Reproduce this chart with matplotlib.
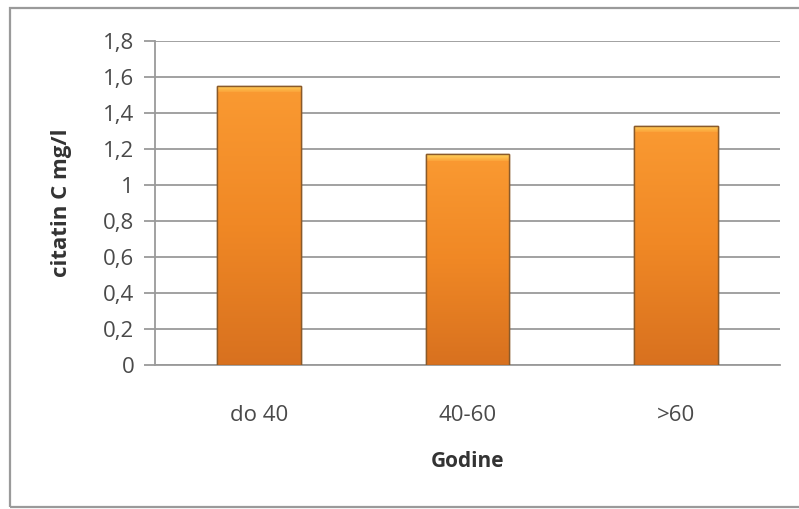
import numpy as np
import matplotlib.pyplot as plt
from matplotlib.patches import Rectangle
from matplotlib.colors import LinearSegmentedColormap
from matplotlib.ticker import FuncFormatter

# data
categories = ["do 40", "40-60", ">60"]
values = [1.55, 1.17, 1.33]
y_ticks = [0, 0.2, 0.4, 0.6, 0.8, 1.0, 1.2, 1.4, 1.6, 1.8]

plt.rcParams['font.family'] = ['Open Sans', 'DejaVu Sans']

fig = plt.figure(figsize=(7.99, 5.09), dpi=100)
ax = fig.add_axes([155 / 799, 1 - 365 / 509, 625 / 799, 324 / 509])

# outer chart border (right edge is cut off in the original)
fig.patches.append(Rectangle((10 / 799, 2 / 509), 1.2, 499 / 509, transform=fig.transFigure,
                             fill=False, edgecolor="#9a9a9a", linewidth=1.6, zorder=0))

x = np.arange(len(categories))
bars = ax.bar(x, values, width=0.4, color="#f5902a", edgecolor="#8a5a2a", linewidth=1.0, zorder=3)

# vertical orange gradient inside each bar, with a light cap on top
grad = LinearSegmentedColormap.from_list("og", ["#d8711f", "#f08825", "#fa9a32"])
cap = LinearSegmentedColormap.from_list("cap", ["#fba43a", "#ffd45c"])
for b in bars:
    x0, w, h = b.get_x(), b.get_width(), b.get_height()
    img = ax.imshow(np.linspace(0, 1, 256).reshape(-1, 1), cmap=grad, origin="lower",
                    extent=[x0, x0 + w, 0, h], aspect="auto", zorder=3.5)
    img.set_clip_path(b)
    top = ax.imshow(np.linspace(0, 1, 32).reshape(-1, 1), cmap=cap, origin="lower",
                    extent=[x0, x0 + w, h - 0.035, h], aspect="auto", zorder=4)
    top.set_clip_path(b)
    ax.add_patch(Rectangle((x0, 0), w, h, fill=False, edgecolor="#8a5a2a", linewidth=1.0, zorder=5))

ax.set_xlim(-0.5, len(categories) - 0.5)
ax.set_ylim(0, 1.8)
ax.set_yticks(y_ticks)
ax.yaxis.set_major_formatter(FuncFormatter(lambda v, p: f"{v:g}".replace(".", ",")))
ax.set_xticks(x)
ax.set_xticklabels(categories)

ax.grid(axis="y", color="#9a9a9a", linewidth=1.3, zorder=0)
for s in ["top", "right"]:
    ax.spines[s].set_visible(False)
ax.spines["left"].set_color("#9a9a9a")
ax.spines["bottom"].set_color("#9a9a9a")
ax.spines["left"].set_linewidth(1.3)
ax.spines["bottom"].set_linewidth(1.3)

ax.tick_params(axis="y", length=8, width=1.3, color="#9a9a9a", labelsize=16, labelcolor="#4a4a4a", pad=7)
ax.tick_params(axis="x", length=0, labelsize=16, labelcolor="#4a4a4a", pad=29)

ax.set_xlabel("Godine", fontsize=15, fontweight="bold", color="#333333", labelpad=18)
ax.set_ylabel("citatin C mg/l", fontsize=16, fontweight="bold", color="#333333", labelpad=22)

fig.savefig("out.png", dpi=100, facecolor="white")
